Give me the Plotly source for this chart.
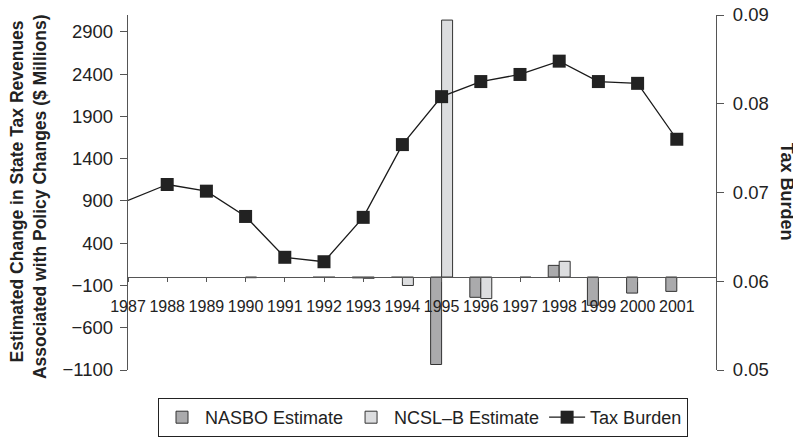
import plotly.graph_objects as go

years = list(range(1987, 2002))
year_labels = [str(y) for y in years]

nasbo = [None, None, None, None, None, -5, -10, -5, -1035, -240, None, 138, -335, -190, -170]
ncsl = [None, None, None, -8, None, -5, -15, -100, 3040, -255, -5, 186, None, None, None]
burden = [0.0691, 0.0709, 0.07015, 0.0673, 0.0627, 0.0622, 0.0672, 0.0754, 0.0808,
          0.0825, 0.0833, 0.0848, 0.0825, 0.0823, 0.0760]

left_ticks = list(range(-1100, 3000, 500))
right_ticks = [0.05, 0.06, 0.07, 0.08, 0.09]

FONT = "Liberation Sans, Arial, sans-serif"
TXT = "#222222"
AX = "#555555"

# the page body adds an 8px offset, so the figure is sized to fill the rest
W, H = 793, 432
L, R, T, B = 120, 85, 7, 70
PW = W - L - R
PH = H - T - B

fig = go.Figure()

fig.add_trace(go.Bar(
    x=years, y=nasbo, name="NASBO Estimate",
    offset=-0.28, width=0.28,
    marker=dict(color="#aaaaac", line=dict(color="#333333", width=1)),
    xaxis="x", yaxis="y",
))
fig.add_trace(go.Bar(
    x=years, y=ncsl, name="NCSL–B Estimate",
    offset=0.0, width=0.28,
    marker=dict(color="#dcdddf", line=dict(color="#333333", width=1)),
    xaxis="x", yaxis="y",
))
fig.add_trace(go.Scatter(
    x=years[:2], y=burden[:2], mode="lines", showlegend=False,
    line=dict(color="#1a1a1a", width=1.3),
    xaxis="x", yaxis="y2", hoverinfo="skip",
))
fig.add_trace(go.Scatter(
    x=years[1:], y=burden[1:], mode="lines+markers", name="Tax Burden",
    line=dict(color="#1a1a1a", width=1.3),
    marker=dict(symbol="square", size=13, color="#222222"),
    xaxis="x", yaxis="y2",
))

zero_pos = (0 - (-1100)) / (3100 - (-1100))

fig.update_layout(
    width=W, height=H,
    margin=dict(l=L, r=R, t=T, b=B, autoexpand=False),
    paper_bgcolor="white", plot_bgcolor="white",
    font=dict(family=FONT, size=18, color=TXT),
    barmode="overlay",
    showlegend=True,
    legend=dict(
        orientation="h", x=(415 - L) / PW, xanchor="center", y=-28 / PH, yanchor="top",
        bordercolor="#222222", borderwidth=1, font=dict(size=18, color=TXT),
        itemwidth=36, traceorder="normal",
    ),
    xaxis=dict(
        range=[1987, 2002], tickmode="array", tickvals=years, ticktext=year_labels,
        anchor="free", position=zero_pos,
        showline=True, linecolor=AX, linewidth=1.3,
        ticks="outside", ticklen=4, tickcolor=AX, tickwidth=1.3,
        tickfont=dict(size=16, color=TXT), ticklabelstandoff=11,
        showgrid=False, zeroline=False,
    ),
    xaxis2=dict(
        range=[1987, 2002], tickmode="array", tickvals=years,
        overlaying="x", anchor="free", position=zero_pos,
        showline=False, ticks="inside", ticklen=4, tickcolor=AX, tickwidth=1.3,
        showticklabels=False, showgrid=False, zeroline=False,
    ),
    yaxis=dict(
        range=[-1100, 3100], tickmode="array", tickvals=left_ticks,
        showline=True, linecolor=AX, linewidth=1.3,
        ticks="outside", ticklen=7, tickcolor=AX, tickwidth=1.3,
        tickfont=dict(size=18.5, color=TXT), ticklabelstandoff=3,
        ticklabeloverflow="allow",
        showgrid=False, zeroline=False,
    ),
    yaxis2=dict(
        range=[0.05, 0.09], tickmode="array", tickvals=right_ticks, tickformat=".2f",
        overlaying="y", side="right", anchor="x",
        showline=True, linecolor=AX, linewidth=1.3,
        ticks="outside", ticklen=7, tickcolor=AX, tickwidth=1.3,
        tickfont=dict(size=18.5, color=TXT), ticklabelstandoff=5,
        ticklabeloverflow="allow",
        showgrid=False, zeroline=False,
    ),
    annotations=[
        dict(text="<b>Estimated Change in State Tax Revenues</b>", textangle=-90,
             xref="paper", yref="paper", x=(9 - L) / PW, y=0.503,
             xanchor="center", yanchor="middle", showarrow=False,
             font=dict(size=17.5, color=TXT, family=FONT)),
        dict(text="<b>Associated with Policy Changes ($ Millions)</b>", textangle=-90,
             xref="paper", yref="paper", x=(32 - L) / PW, y=0.487,
             xanchor="center", yanchor="middle", showarrow=False,
             font=dict(size=17.5, color=TXT, family=FONT)),
        dict(text="<b>Tax Burden</b>", textangle=90,
             xref="paper", yref="paper", x=(779 - L) / PW, y=0.502,
             xanchor="center", yanchor="middle", showarrow=False,
             font=dict(size=18, color=TXT, family=FONT)),
    ],
)

fig.write_html("out.html")
